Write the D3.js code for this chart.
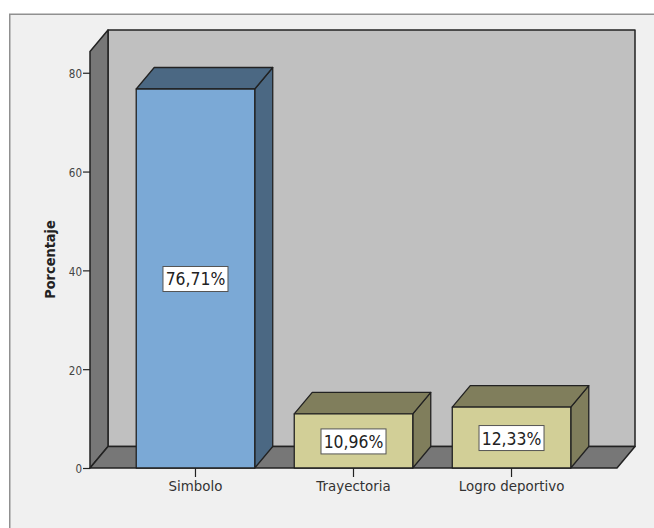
<!DOCTYPE html>
<html><head><meta charset="utf-8">
<script src="https://cdn.jsdelivr.net/npm/d3@7"></script>
<style>html,body{margin:0;padding:0;background:#fff;overflow:hidden}svg{display:block}</style>
</head><body><div id="c"></div>
<script>
const categories = ["Simbolo", "Trayectoria", "Logro deportivo"];
const values = [76.71, 10.96, 12.33];
const valueLabels = ["76,71%", "10,96%", "12,33%"];
const yTicks = [0, 20, 40, 60, 80];
const axisTitle = "Porcentaje";
const frontColors = ["#7ba9d6", "#d2cf97", "#d2cf97"];
const sideColors = ["#4b6883", "#807e5c", "#807e5c"];

const W = 654, H = 528, dx = 18, dy = 21.5;
const svg = d3.select("#c").append("svg").attr("width", W).attr("height", H);
const y = d3.scaleLinear().domain([0, 84.3]).range([468, 51.5]);
const x = d3.scaleBand().domain(categories).range([90, 617]).paddingInner(0.25).paddingOuter(0.2925);
const font = "'DejaVu Sans', sans-serif";
const condensed = "'DejaVu Sans Condensed', 'DejaVu Sans', sans-serif";
const stroke = "#222";

svg.append("rect").attr("x", 9.75).attr("y", 14.25).attr("width", 660).attr("height", 530)
  .attr("fill", "#f0f0f0").attr("stroke", "#909090").attr("stroke-width", 1.5);

const poly = (pts, fill, sw = 1.3) => svg.append("polygon").attr("points", pts.map(p => p.join(",")).join(" "))
  .attr("fill", fill).attr("stroke", stroke).attr("stroke-width", sw).attr("stroke-linejoin", "round");

const x0 = x.range()[0], x1 = x.range()[1], y0 = y(0), yT = y(y.domain()[1]);
poly([[x0 + dx, yT - dy], [x1 + dx, yT - dy], [x1 + dx, y0 - dy], [x0 + dx, y0 - dy]], "#c0c0c0", 1.5);
poly([[x0, yT], [x0 + dx, yT - dy], [x0 + dx, y0 - dy], [x0, y0]], "#777777", 1.5);
poly([[x0, y0], [x0 + dx, y0 - dy], [x1 + dx, y0 - dy], [x1, y0]], "#777777", 1.5);

const yAxis = d3.axisLeft(y).tickValues(yTicks).tickSize(7).tickPadding(1).tickSizeOuter(0);
const gy = svg.append("g").attr("transform", `translate(${x0},0)`).call(yAxis);
gy.select(".domain").remove();
gy.selectAll("line").attr("stroke", stroke).attr("stroke-width", 1.2);
gy.selectAll("text").attr("font-family", condensed).attr("font-size", 11.5).attr("fill", "#444").attr("dy", "0.42em");

const xAxis = d3.axisBottom(x).tickSize(9).tickPadding(4).tickSizeOuter(0);
const gx = svg.append("g").attr("transform", `translate(0,${y0})`).call(xAxis);
gx.select(".domain").remove();
gx.selectAll("line").attr("stroke", stroke).attr("stroke-width", 1.2);
gx.selectAll("text").attr("font-family", font).attr("font-size", 13.4).attr("fill", "#333");

categories.forEach((c, i) => {
  const l = x(c), r = l + x.bandwidth(), t = y(values[i]);
  poly([[r, t], [r + dx, t - dy], [r + dx, y0 - dy], [r, y0]], sideColors[i]);
  poly([[l, t], [l + dx, t - dy], [r + dx, t - dy], [r, t]], sideColors[i]);
  poly([[l, t], [r, t], [r, y0], [l, y0]], frontColors[i]);
  const cx = (l + r) / 2, cy = (t + y0) / 2 + 0.5;
  svg.append("rect").attr("x", cx - 32.5).attr("y", cy - 12.5).attr("width", 65).attr("height", 25)
    .attr("fill", "#fff").attr("stroke", "#555").attr("stroke-width", 1);
  svg.append("text").attr("x", cx).attr("y", cy + 6.5).attr("text-anchor", "middle")
    .attr("font-family", condensed).attr("font-size", 17.4).attr("fill", "#222").text(valueLabels[i]);
});

svg.append("text").attr("transform", "translate(55,259.5) rotate(-90)").attr("text-anchor", "middle")
  .attr("font-family", condensed).attr("font-weight", "bold").attr("font-size", 14.4).attr("fill", "#222").text(axisTitle);
</script></body></html>
